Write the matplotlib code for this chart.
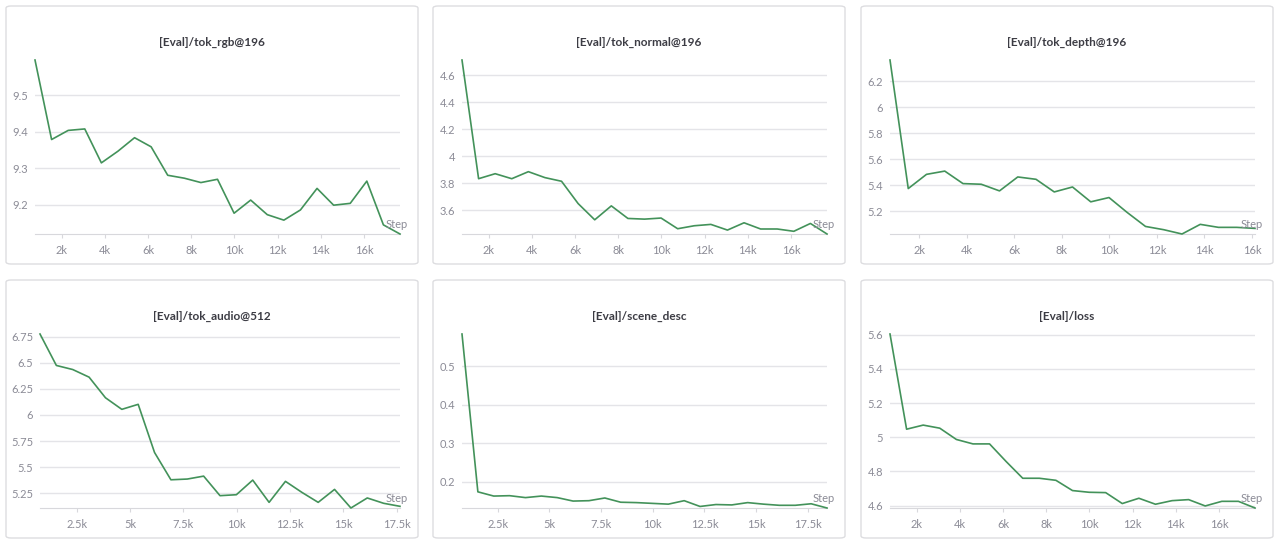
import matplotlib.pyplot as plt
from matplotlib.patches import FancyBboxPatch

plt.rcParams['font.family'] = ['Lato', 'DejaVu Sans']

W, H = 1280, 546

# eval every 768 steps
step = 768
n23 = [step * i for i in range(1, 24)]
n21 = [step * i for i in range(1, 22)]
n24 = [step * i for i in range(1, 25)]

tok_rgb = [9.597, 9.379, 9.404, 9.408, 9.315, 9.347, 9.384, 9.359, 9.281, 9.273,
           9.261, 9.270, 9.177, 9.213, 9.173, 9.158, 9.186, 9.245, 9.199, 9.204,
           9.265, 9.145, 9.120]
tok_normal = [4.713, 3.835, 3.872, 3.835, 3.887, 3.843, 3.816, 3.651, 3.531, 3.634,
              3.541, 3.536, 3.544, 3.465, 3.487, 3.497, 3.455, 3.509, 3.463, 3.463,
              3.446, 3.504, 3.426]
tok_depth = [6.363, 5.376, 5.485, 5.510, 5.414, 5.409, 5.358, 5.465, 5.447, 5.350,
             5.388, 5.274, 5.307, 5.192, 5.085, 5.060, 5.027, 5.101, 5.078, 5.078,
             5.070]
tok_audio = [6.775, 6.474, 6.435, 6.362, 6.165, 6.054, 6.102, 5.641, 5.380, 5.387,
             5.415, 5.228, 5.237, 5.377, 5.164, 5.365, 5.260, 5.164, 5.288, 5.110,
             5.206, 5.155, 5.126]
scene_desc = [0.584, 0.174, 0.163, 0.164, 0.159, 0.163, 0.159, 0.150, 0.151, 0.158,
              0.147, 0.146, 0.144, 0.142, 0.151, 0.136, 0.141, 0.140, 0.146, 0.142,
              0.139, 0.139, 0.143, 0.132]
loss = [5.604, 5.047, 5.071, 5.053, 4.987, 4.961, 4.961, 4.858, 4.760, 4.760,
        4.748, 4.688, 4.678, 4.676, 4.612, 4.643, 4.608, 4.629, 4.635, 4.598,
        4.625, 4.625, 4.586]

titles = ['[Eval]/tok_rgb@196', '[Eval]/tok_normal@196', '[Eval]/tok_depth@196',
          '[Eval]/tok_audio@512', '[Eval]/scene_desc', '[Eval]/loss']
xs = [n23, n23, n21, n23, n24, n23]
ys = [tok_rgb, tok_normal, tok_depth, tok_audio, scene_desc, loss]
yticks = [[9.2, 9.3, 9.4, 9.5],
          [3.6, 3.8, 4.0, 4.2, 4.4, 4.6],
          [5.2, 5.4, 5.6, 5.8, 6.0, 6.2],
          [5.25, 5.5, 5.75, 6.0, 6.25, 6.5, 6.75],
          [0.2, 0.3, 0.4, 0.5],
          [4.6, 4.8, 5.0, 5.2, 5.4, 5.6]]
xticks_k = [list(range(2000, 16001, 2000))] * 3 + \
           [[2500, 5000, 7500, 10000, 12500, 15000, 17500]] * 2 + \
           [list(range(2000, 16001, 2000))]

green = '#43925a'
tick_col = '#8b8b96'
grid_col = '#e4e4e8'

fig = plt.figure(figsize=(W / 100, H / 100), dpi=100)

box_x = [6, 433, 861]
box_y = [6, 280]
box_w, box_h = 412, 258

for k in range(6):
    r, c = divmod(k, 3)
    bx, by = box_x[c], box_y[r]
    # panel card
    card = FancyBboxPatch((bx / W, 1 - (by + box_h) / H), box_w / W, box_h / H,
                          boxstyle='round,pad=0,rounding_size=0.004',
                          transform=fig.transFigure, facecolor='white',
                          edgecolor='#dddde0', linewidth=1.0, zorder=-1)
    fig.patches.append(card)
    fig.text((bx + box_w / 2) / W, 1 - (by + 36) / H, titles[k], ha='center',
             va='center', fontsize=8.5, fontweight='bold', color='#3c3c44')

    left = bx + (34 if k == 3 else 29)
    right = bx + 394
    top = by + 54
    bottom = by + 228
    ax = fig.add_axes([left / W, 1 - bottom / H, (right - left) / W, (bottom - top) / H])
    ax.plot(xs[k], ys[k], color=green, lw=1.2, clip_on=False, zorder=3)
    ax.set_xlim(xs[k][0], xs[k][-1])
    ax.set_ylim(min(ys[k]), max(ys[k]))
    ax.set_yticks(yticks[k])
    ax.set_yticklabels([f'{v:g}' for v in yticks[k]])
    ax.set_xticks(xticks_k[k])
    ax.set_xticklabels([f'{v / 1000:g}k' for v in xticks_k[k]])
    ax.grid(axis='y', color=grid_col, lw=1.0)
    ax.set_axisbelow(True)
    for s in ['top', 'right', 'left']:
        ax.spines[s].set_visible(False)
    ax.spines['bottom'].set_color('#d8d8dc')
    ax.tick_params(axis='y', length=0, pad=5, labelsize=8, labelcolor=tick_col)
    ax.tick_params(axis='x', length=3, color='#d8d8dc', pad=5, labelsize=8,
                   labelcolor=tick_col)
    ax.patch.set_alpha(0)
    ax.annotate('Step', xy=(1, 0), xycoords='axes fraction', xytext=(8, 4),
                textcoords='offset pixels', ha='right', va='bottom',
                fontsize=8, color=tick_col)

fig.savefig('out.png', dpi=100, facecolor='white')
